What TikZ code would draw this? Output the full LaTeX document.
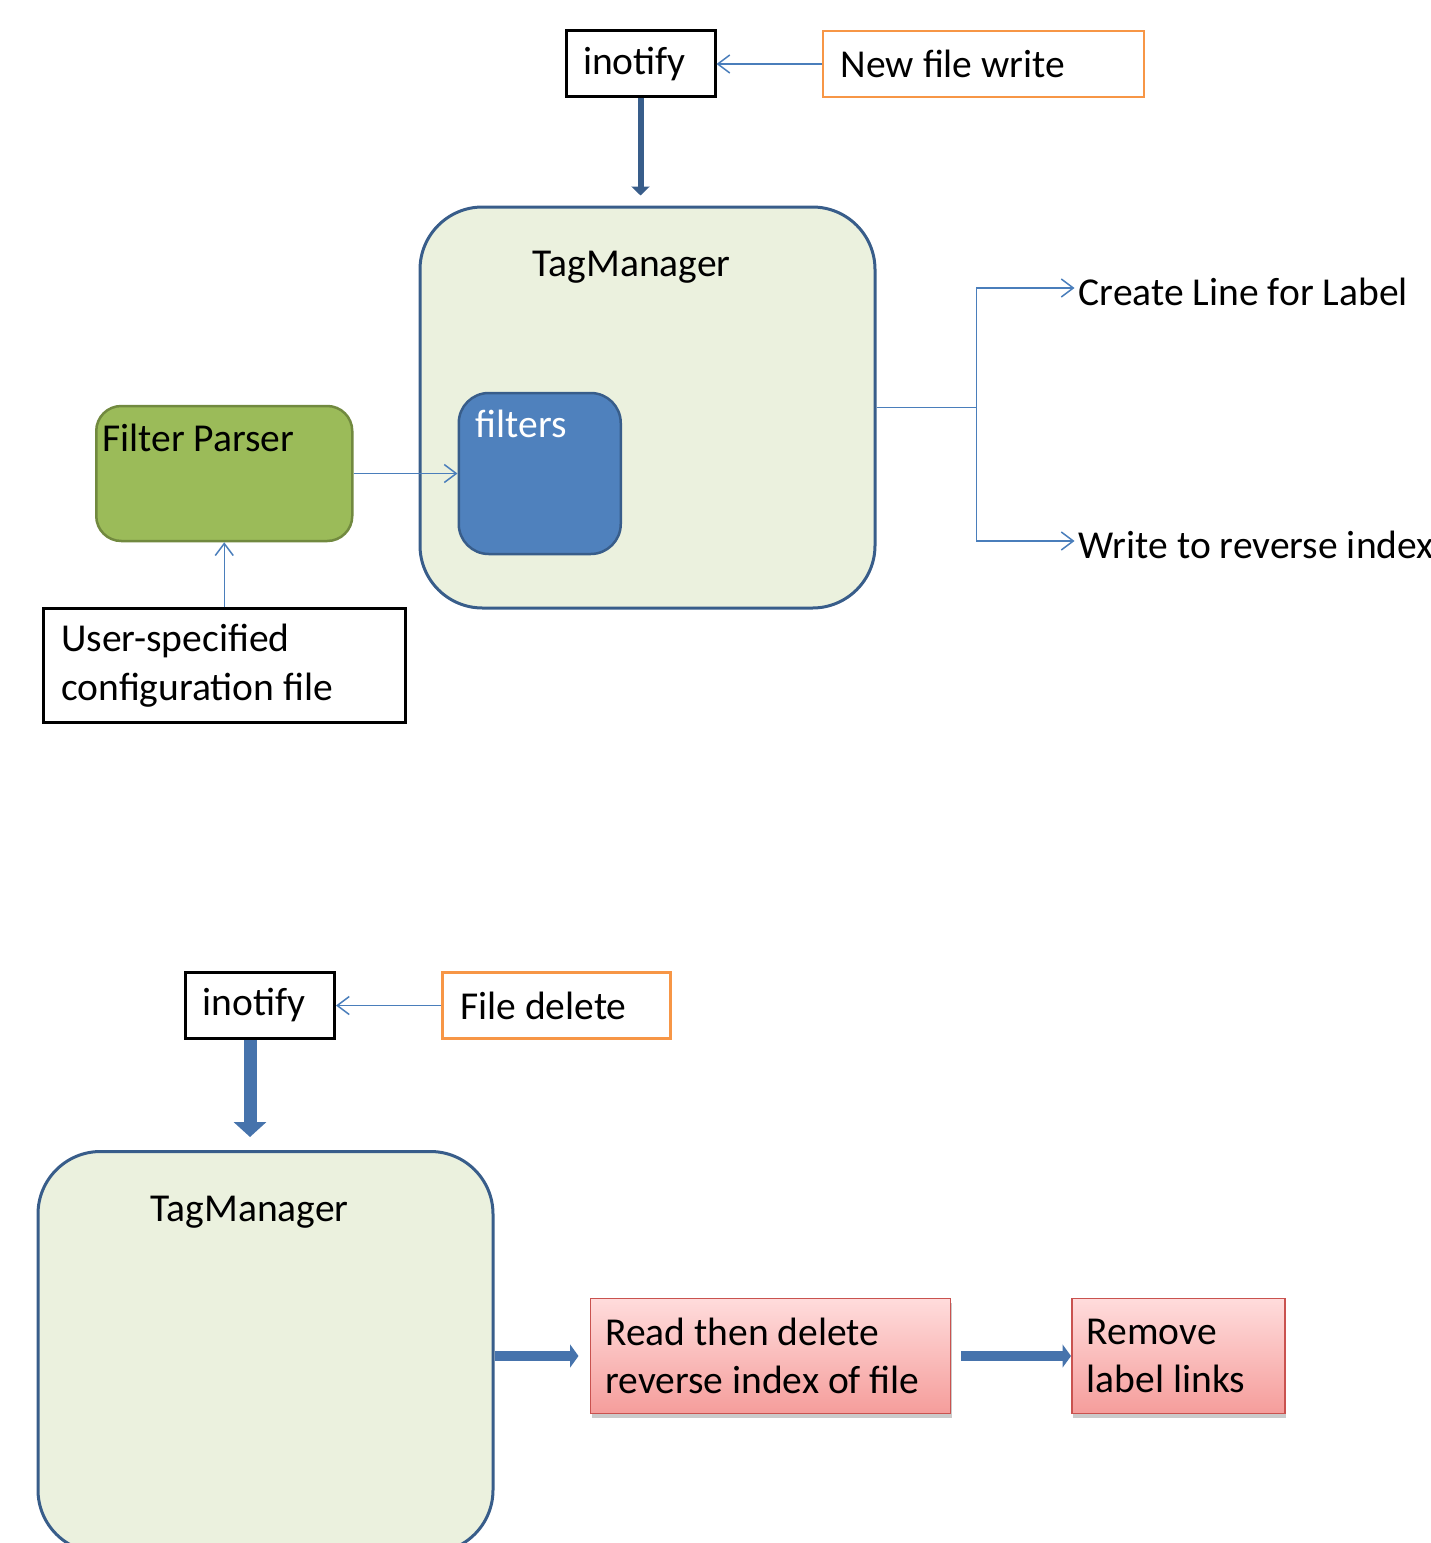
\documentclass[tikz,border=0pt]{standalone}
\usepackage{fontspec}
\setmainfont{Carlito}
\usepackage{tikz}
\usetikzlibrary{positioning, arrows.meta, shadows}
\definecolor{azuloscuro}{HTML}{385D8A}
\definecolor{azul}{HTML}{4F81BD}
\definecolor{azullinea}{HTML}{4A7EBB}
\definecolor{azulbloque}{HTML}{4673AC}
\definecolor{fondo}{HTML}{EBF1DE}
\definecolor{verde}{HTML}{9BBB59}
\definecolor{verdeoscuro}{HTML}{71893F}
\definecolor{naranja}{HTML}{F79646}
\definecolor{rojooscuro}{HTML}{C9524F}
\definecolor{rojoclaro}{HTML}{FFDCDC}
\definecolor{rojomedio}{HTML}{F59D9B}
\newcommand{\letra}{\fontsize{22.5pt}{27.5pt}\selectfont}
\tikzset{
    box_inotify/.style={rectangle, draw=black, line width=0.06cm, text width=2.3cm, minimum height=1.32cm, inner xsep=0.34cm, align=flush left, font=\letra},
    box_evento/.style={rectangle, draw=naranja, line width=0.05cm, minimum height=1.32cm, inner xsep=0.36cm, align=flush left, font=\letra},
    box_manager/.style={rectangle, rounded corners=1.25cm, draw=azuloscuro, fill=fondo, line width=0.06cm, minimum width=9.1cm, minimum height=8.02cm},
    box_filtro/.style={rectangle, rounded corners=0.6cm, draw=azuloscuro, fill=azul, line width=0.05cm, minimum width=3.24cm, minimum height=3.22cm},
    box_parser/.style={rectangle, rounded corners=0.5cm, draw=verdeoscuro, fill=verde, line width=0.05cm, minimum width=5.12cm, minimum height=2.7cm},
    box_config/.style={rectangle, draw=black, line width=0.06cm, text width=6.52cm, minimum height=2.28cm, inner xsep=0.36cm, align=flush left, font=\letra},
    box_accion/.style={rectangle, draw=rojooscuro, line width=0.03cm, top color=rojoclaro, bottom color=rojomedio, drop shadow={shadow xshift=0.03cm, shadow yshift=-0.08cm, opacity=0.35, fill=black!60}, minimum height=2.3cm, inner xsep=0.3cm, align=flush left, font=\letra},
    etiqueta_tag/.style={anchor=base, xshift=-0.32cm, yshift=-1.42cm, inner sep=0pt, font=\letra},
    etiqueta_caja/.style={anchor=base west, inner sep=0pt, font=\letra},
    texto_salida/.style={inner xsep=0.08cm, inner ysep=0pt, text height=19.4pt, text depth=0pt, font=\letra},
    linea/.style={draw, line width=0.03cm, color=azullinea},
    flecha/.style={draw, -{Straight Barb[length=0.24cm, width=0.36cm]}, line width=0.03cm, color=azullinea},
    flecha_gruesa/.style={draw, -{Triangle[length=0.18cm, width=0.36cm]}, line width=0.12cm, color=azuloscuro},
    flecha_bloque/.style={draw, -{Triangle[length=0.3cm, width=0.64cm]}, line width=0.26cm, color=azulbloque},
    flecha_accion/.style={draw, -{Triangle[length=0.17cm, width=0.46cm]}, line width=0.2cm, color=azulbloque}
}
\begin{document}
\begin{tikzpicture}
    \clip (0,0) rectangle (28.6,-30.86);

    \node[box_inotify] (inotifyA) at (12.81,-1.28) {inotify};
    \node[box_evento, text width=5.7cm, right=2.1cm of inotifyA] (nuevo) {New file write};

    \node[box_manager, below=2.14cm of inotifyA, xshift=0.14cm, label={[name=tagA_t, etiqueta_tag]north:TagManager}] (tagA) {};
    \node[box_filtro, right=0.78cm of tagA.west, yshift=-1.32cm, label={[name=filtros_t, etiqueta_caja, xshift=0.36cm, yshift=-0.92cm, text=white]north west:filters}] (filtros) {};
    \node[box_parser, left=2.08cm of filtros, label={[name=parser_t, etiqueta_caja, xshift=0.14cm, yshift=-0.94cm]north west:Filter Parser}] (parser) {};
    \node[box_config, below=1.3cm of parser] (config) {User-specified\\configuration file};

    \coordinate[right=2cm of tagA.east] (rama);
    \node[texto_salida, right=1.96cm of rama, yshift=2.39cm] (crear) {Create Line for Label};
    \node[texto_salida, right=1.96cm of rama, yshift=-2.67cm] (escribir) {Write to reverse index};

    \draw[flecha] (nuevo) -- (inotifyA);
    \draw[flecha_gruesa, shorten >=0.2cm] (inotifyA.south) -- (inotifyA.south |- tagA.north);
    \draw[flecha] (parser) -- (filtros);
    \draw[flecha] (config.north) -- (parser.south);
    \draw[linea] (tagA.east) -- (rama);
    \draw[flecha] (rama) |- (crear.west);
    \draw[flecha] (rama) |- (escribir.west);

    \node[box_inotify] (inotifyB) at (5.2,-20.11) {inotify};
    \node[box_evento, text width=3.84cm, right=2.1cm of inotifyB] (borrar) {File delete};
    \node[box_manager, below=2.2cm of inotifyB, xshift=0.11cm, label={[name=tagB_t, etiqueta_tag]north:TagManager}] (tagB) {};
    \node[box_accion, text width=6.6cm, right=1.9cm of tagB, yshift=-0.08cm] (leer) {Read then delete\\reverse index of file};
    \node[box_accion, text width=3.66cm, right=2.4cm of leer] (quitar) {Remove\\label links};

    \draw[flecha] (borrar) -- (inotifyB);
    \draw[flecha_bloque, shorten >=0.26cm] ([xshift=-0.2cm]inotifyB.south) -- ([xshift=-0.2cm]inotifyB.south |- tagB.north);
    \draw[flecha_accion, shorten >=0.22cm] (tagB.east |- leer.west) -- (leer.west);
    \draw[flecha_accion, shorten <=0.2cm] (leer.east) -- (quitar.west);
\end{tikzpicture}
\end{document}
